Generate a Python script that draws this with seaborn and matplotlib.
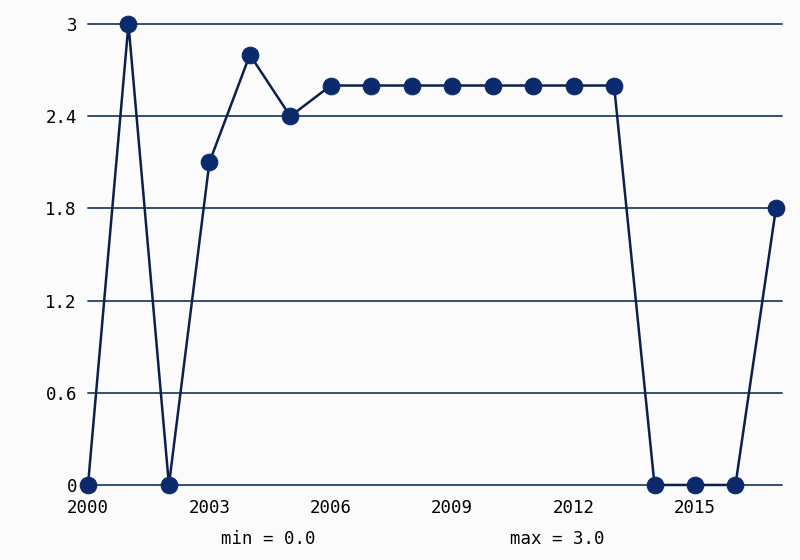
import numpy as np
import pandas as pd
import matplotlib
matplotlib.use("Agg")
import matplotlib.pyplot as plt
import seaborn as sns

anni = list(range(2000, 2018))
valori = [0.0, 3.0, 0.0, 2.1, 2.8, 2.4, 2.6, 2.6, 2.6, 2.6, 2.6, 2.6, 2.6, 2.6, 0.0, 0.0, 0.0, 1.8]
tick_x = [2000, 2003, 2006, 2009, 2012, 2015]
tick_y = [0, 0.6, 1.2, 1.8, 2.4, 3]
etichette_y = ["0", "0.6", "1.2", "1.8", "2.4", "3"]

df = pd.DataFrame({"anno": anni, "valore": valori})

sns.set_style("white")
plt.rcParams['font.family'] = ['DejaVu Sans Mono']

fig = plt.figure(figsize=(8, 5.6), dpi=100, facecolor="#fbfbfb")
ax = fig.add_axes([0.11, 0.134, 0.8675, 0.823])
ax.set_facecolor("#fbfbfb")

# griglia orizzontale
colore_griglia = "#34506e"
for y in tick_y:
    ax.axhline(y, color=colore_griglia, lw=1.4, zorder=1, clip_on=False)

sns.lineplot(data=df, x="anno", y="valore", ax=ax, color="#0d1f4a", lw=1.8,
             marker="o", markersize=12, markerfacecolor="#0b2a6b",
             markeredgecolor="#0b2a6b", clip_on=False, zorder=3)

ax.set_xlim(2000, 2017.15)
ax.set_ylim(0, 3)
ax.set_xticks(tick_x)
ax.set_xticklabels([str(t) for t in tick_x], fontsize=12.5, color="black")
ax.set_yticks(tick_y)
ax.set_yticklabels(etichette_y, fontsize=12.5, color="black")
ax.tick_params(axis="y", length=0, pad=8)
ax.tick_params(axis="x", length=5, width=1.2, color=colore_griglia, direction="out", pad=5)
ax.set_xlabel("")
ax.set_ylabel("")
for s in ax.spines.values():
    s.set_visible(False)

fig.text(268 / 800, 1 - 539 / 560, "min = 0.0", ha="center", va="center", fontsize=12.5, color="black")
fig.text(557 / 800, 1 - 539 / 560, "max = 3.0", ha="center", va="center", fontsize=12.5, color="black")

fig.savefig("out.png", dpi=100, facecolor=fig.get_facecolor())
